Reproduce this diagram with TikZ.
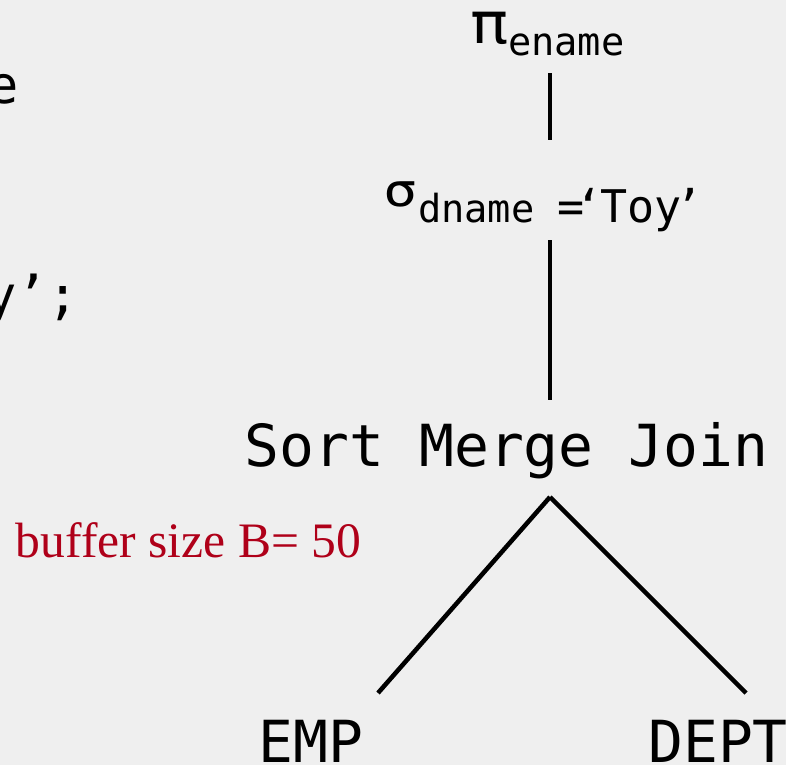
\documentclass[tikz,border=0pt]{standalone}
\usepackage{fontspec}
\setmainfont{Liberation Serif}
\newfontfamily\codefont{DejaVu Sans Mono}
\definecolor{bg}{RGB}{239,239,239}
\definecolor{note}{RGB}{175,0,25}

\tikzset{
  txt/.style={inner sep=0pt, outer sep=0pt},
  big/.style={txt, font=\codefont\fontsize{43.5}{50}\selectfont},
  sub/.style={txt, font=\codefont\fontsize{29}{34}\selectfont},
  edge/.style={line width=3.4pt, line cap=butt, black}
}

\begin{document}
\begin{tikzpicture}[x=0.75pt, y=-0.75pt]
  % canvas
  \fill[bg] (0,0) rectangle (786,765);
  \useasboundingbox (0,0) rectangle (786,765);

  % fragments of the SQL query cut off on the left
  \node[txt, anchor=base east, font=\codefont\fontsize{39}{44}\selectfont] (qa) at (19,103) {e};
  \node[txt, anchor=base east, font=\codefont\fontsize{39}{44}\selectfont] (qb) at (79,313) {y’;};

  % buffer note
  \node[txt, anchor=base west, text=note, font=\fontsize{37.2}{42}\selectfont] (buf) at (16,557) {buffer size B= 50};

  % projection
  \node[txt, anchor=base west, font=\codefont\fontsize{43}{50}\selectfont] (pi) at (470,43) {\scalebox{1.1}[1]{π}};
  \node[sub, anchor=base west] (pisub) at (508,55) {ename};

  % selection
  \node[txt, anchor=base west, font=\codefont\fontsize{34}{38}\selectfont] (sigma) at (383,206) {\scalebox{1.25}[1]{σ}};
  \node[sub, anchor=base west] (sigsub) at (418,222) {dname};
  \node[txt, anchor=base west, font=\codefont\fontsize{33.75}{38}\selectfont] (sigval) at (557,222)
    {=\kern-6.4pt‘\kern-1.5pt Toy\kern-4.5pt’};

  % join and relations
  \node[big, anchor=base] (smj) at (506.5,466) {Sort Merge Join};
  \node[big, anchor=base] (emp) at (311,762) {EMP};
  \node[big, anchor=base] (dept) at (718,762) {DEPT};

  % connector end points
  \coordinate (piLow) at (550,73);
  \coordinate (sigTop) at (550,140);
  \coordinate (sigLow) at (550,240);
  \coordinate (smjTop) at (550,400);
  \coordinate (apex) at (550,497);
  \coordinate (empTop) at (378,693);
  \coordinate (deptTop) at (746,693);

  \draw[edge] (piLow) -- (sigTop);
  \draw[edge] (sigLow) -- (smjTop);
  \draw[edge] (apex) -- (empTop);
  \draw[edge] (apex) -- (deptTop);
\end{tikzpicture}
\end{document}
